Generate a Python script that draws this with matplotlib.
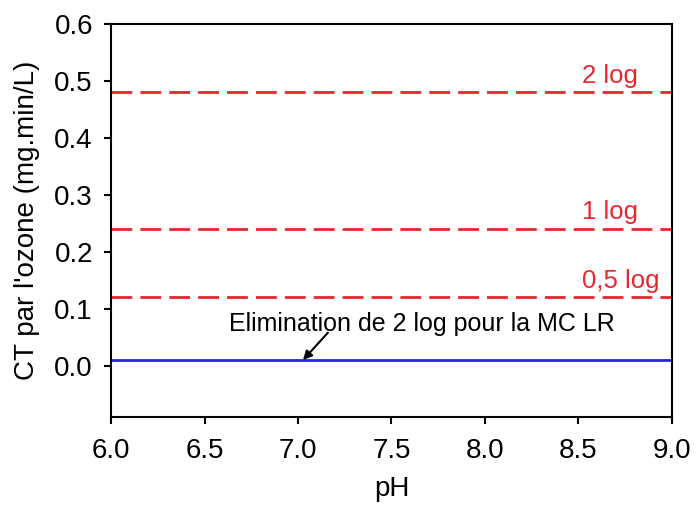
import matplotlib
matplotlib.use("Agg")
import matplotlib.pyplot as plt

plt.rcParams['font.family'] = ['Liberation Sans', 'DejaVu Sans']

# data
ph = [6.0, 9.0]
ct_mclr = [0.01, 0.01]
log_levels = [0.48, 0.24, 0.12]
log_labels = ['2 log', '1 log', '0,5 log']
xticks = [6.0, 6.5, 7.0, 7.5, 8.0, 8.5, 9.0]
yticks = [0.0, 0.1, 0.2, 0.3, 0.4, 0.5, 0.6]

fig = plt.figure(figsize=(6.96, 5.12), dpi=100)
ax = fig.add_axes([0.1595, 0.1855, 0.806, 0.768])

red = '#e8262e'
for lvl, lab in zip(log_levels, log_labels):
    ax.plot(ph, [lvl, lvl], color=red, lw=2, dashes=(7.5, 2.9))
    ax.text(8.52, lvl + 0.008, lab, color=red, fontsize=18.5, ha='left', va='bottom')

ax.plot(ph, ct_mclr, color='#2424e6', lw=2)

ax.text(7.663, 0.061, 'Elimination de 2 log pour la MC LR', fontsize=18,
        ha='center', va='baseline')
ax.annotate('', xy=(7.027, 0.01), xytext=(7.16, 0.058),
            arrowprops=dict(arrowstyle='-|>', color='black', lw=1.5,
                            mutation_scale=13, shrinkA=0, shrinkB=0))

ax.set_xlim(6.0, 9.0)
ax.set_ylim(-0.09, 0.6)
ax.set_xticks(xticks)
ax.set_yticks(yticks)
ax.set_xticklabels(['%.1f' % v for v in xticks])
ax.set_yticklabels(['%.1f' % v for v in yticks])
ax.tick_params(direction='out', length=5, width=1.5, labelsize=20)
ax.tick_params(axis='x', pad=10)
ax.tick_params(axis='y', pad=8)
for s in ax.spines.values():
    s.set_linewidth(1.5)

ax.set_xlabel('pH', fontsize=20, labelpad=8.5)
ax.set_ylabel("CT par l'ozone (mg.min/L)", fontsize=20, labelpad=10)

fig.savefig('out.png', dpi=100)
